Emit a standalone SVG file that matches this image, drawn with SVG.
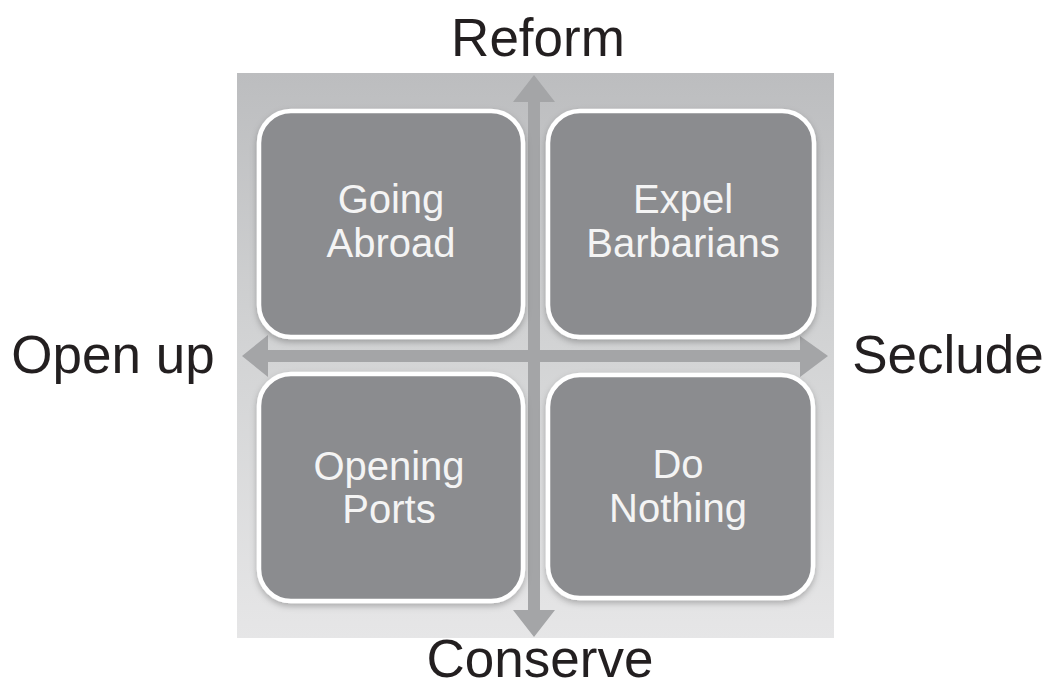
<svg xmlns="http://www.w3.org/2000/svg" width="1058" height="687" viewBox="0 0 1058 687">
  <defs>
    <linearGradient id="panelFill" x1="0" y1="0" x2="0" y2="1">
      <stop offset="0" stop-color="#bcbdbf"/>
      <stop offset="0.5" stop-color="#d3d4d5"/>
      <stop offset="1" stop-color="#e6e6e7"/>
    </linearGradient>
    <filter id="soft" x="-10%" y="-10%" width="120%" height="125%">
      <feDropShadow dx="0" dy="3" stdDeviation="3" flood-color="#000" flood-opacity="0.25"/>
    </filter>
    <style>
      .axis { font-family: "Liberation Sans", Arial, sans-serif; font-size: 53px; fill: #231f20; text-anchor: middle; }
      .box { fill: #8b8c8f; stroke: #ffffff; stroke-width: 4.5; filter: url(#soft); }
      .label { font-family: "Liberation Sans", Arial, sans-serif; font-size: 40px; fill: #f4f4f4; text-anchor: middle; }
      .arrow { fill: #a4a5a7; }
    </style>
  </defs>

  <rect width="1058" height="687" fill="#ffffff"/>

  <!-- background panel -->
  <rect x="237" y="73" width="597" height="565" fill="url(#panelFill)"/>

  <!-- axes -->
  <g id="connectors">
    <polygon class="arrow" points="534,75 555,102 540,102 540,610 555,610 534,637 513,610 528,610 528,102 513,102"/>
    <polygon class="arrow" points="242,356 268,335 268,350 800,350 800,336 828,356 800,377 800,362 268,362 268,377"/>
  </g>

  <!-- axis labels -->
  <text class="axis" x="538" y="56">Reform</text>
  <text class="axis" x="540" y="677">Conserve</text>
  <text class="axis" x="113" y="373">Open up</text>
  <text class="axis" x="948" y="373">Seclude</text>

  <g id="going-abroad">
    <rect class="box" x="259" y="111" width="264" height="226" rx="32"/>
    <text class="label" x="391" y="213">Going<tspan x="391" y="257">Abroad</tspan></text>
  </g>

  <g id="expel-barbarians">
    <rect class="box" x="548" y="111" width="266" height="226" rx="32"/>
    <text class="label" x="683" y="213">Expel<tspan x="683" y="257">Barbarians</tspan></text>
  </g>

  <g id="opening-ports">
    <rect class="box" x="259" y="374" width="264" height="227" rx="32"/>
    <text class="label" x="389" y="480">Opening<tspan x="389" y="523">Ports</tspan></text>
  </g>

  <g id="do-nothing">
    <rect class="box" x="548" y="375" width="265" height="223" rx="32"/>
    <text class="label" x="678" y="478">Do<tspan x="678" y="522">Nothing</tspan></text>
  </g>
</svg>
